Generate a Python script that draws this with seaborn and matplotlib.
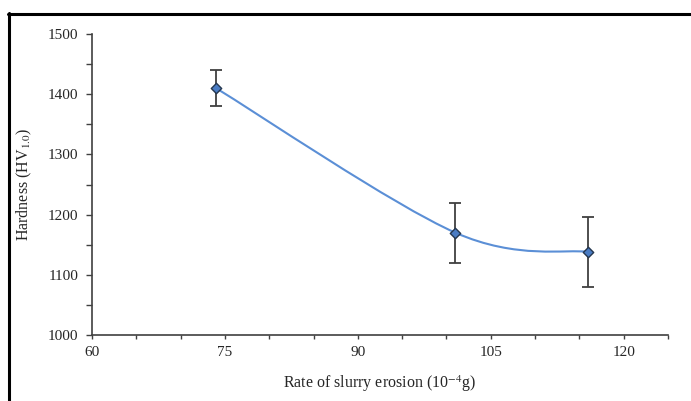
import numpy as np
import matplotlib
matplotlib.use("Agg")
import matplotlib.pyplot as plt
from matplotlib.path import Path
from matplotlib.patches import PathPatch
from matplotlib.lines import Line2D
from matplotlib.ticker import MultipleLocator
import seaborn as sns

erosion_rate = [74, 101, 116]
hardness = [1410, 1170, 1138]
hardness_err = [30, 50, 58]

sns.set_style("white")
plt.rcParams['font.family'] = ['Liberation Serif', 'DejaVu Serif']
plt.rcParams['mathtext.fontset'] = 'stix'

fig = plt.figure(figsize=(6.91, 4.01), dpi=100)
ax = fig.add_axes([92 / 691, 1 - 335 / 401, (668 - 92) / 691, (335 - 34) / 401])

# smoothed line (excel style bezier through the points)
x = np.array(erosion_rate, dtype=float)
y = np.array(hardness, dtype=float)
px = np.concatenate([[x[0]], x, [x[-1]]])
py = np.concatenate([[y[0]], y, [y[-1]]])
verts = [(x[0], y[0])]
codes = [Path.MOVETO]
for i in range(1, len(px) - 2):
    c1 = (px[i] + (px[i + 1] - px[i - 1]) / 6, py[i] + (py[i + 1] - py[i - 1]) / 6)
    c2 = (px[i + 1] - (px[i + 2] - px[i]) / 6, py[i + 1] - (py[i + 2] - py[i]) / 6)
    verts += [c1, c2, (px[i + 1], py[i + 1])]
    codes += [Path.CURVE4] * 3
ax.add_patch(PathPatch(Path(verts, codes), facecolor="none", edgecolor="#5b8fd6", lw=1.5, zorder=2))

ax.errorbar(erosion_rate, hardness, yerr=hardness_err, fmt="none", ecolor="#404040",
            elinewidth=1.3, capsize=4, capthick=1.3, zorder=3)
sns.scatterplot(x=erosion_rate, y=hardness, marker="D", s=28, color="#4a7cc4",
                edgecolor="#24364f", linewidth=1.0, zorder=4, ax=ax)

ax.set_xlim(60, 125)
ax.set_ylim(1000, 1500)
ax.xaxis.set_major_locator(MultipleLocator(15))
ax.xaxis.set_minor_locator(MultipleLocator(5))
ax.yaxis.set_major_locator(MultipleLocator(100))
ax.yaxis.set_minor_locator(MultipleLocator(50))
ax.tick_params(axis="y", which="both", direction="out", length=4, width=1, color="#404040",
               labelsize=11, pad=6, left=True)
ax.tick_params(axis="x", which="both", direction="out", length=3, width=1, color="#404040",
               labelsize=11, pad=5, bottom=True)
for s in ["top", "right"]:
    ax.spines[s].set_visible(False)
for s in ["left", "bottom"]:
    ax.spines[s].set_color("#404040")
    ax.spines[s].set_linewidth(1.2)

ax.set_xlabel(r"Rate of slurry erosion (10$^{-4}$g)", fontsize=11.5, labelpad=10)
ax.set_ylabel(r"Hardness (HV$_{1.0}$)", fontsize=11.5, labelpad=10)

# outer frame
fig.add_artist(Line2D([8.5 / 691, 8.5 / 691], [0, 1 - 12.5 / 401], color="black", lw=2.2))
fig.add_artist(Line2D([7.5 / 691, 1], [1 - 13.5 / 401, 1 - 13.5 / 401], color="black", lw=2.2))

fig.savefig("out.png", dpi=100)
